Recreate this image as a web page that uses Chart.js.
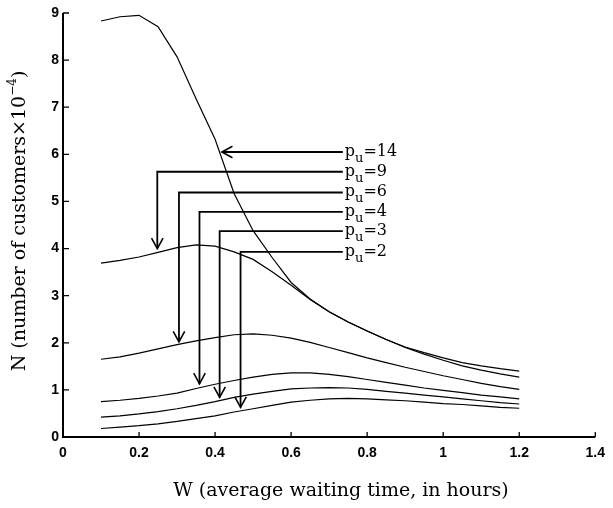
<!DOCTYPE html>
<html><head><meta charset="utf-8">
<script src="https://cdn.jsdelivr.net/npm/chart.js@4.4.0/dist/chart.umd.min.js"></script>
<style>html,body{margin:0;padding:0;background:#fff;}canvas{display:block;}</style>
</head><body>
<canvas id="c" width="613" height="508"></canvas>
<script>
// W (average waiting time, hours)
const waitTimes = [0.1,0.15,0.2,0.25,0.3,0.35,0.4,0.45,0.5,0.55,0.6,0.65,0.7,0.75,0.8,0.85,0.9,0.95,1.0,1.05,1.1,1.15,1.2];
// N (number of customers x 10^-4) for each p_u
const pu14 = [8.83,8.92,8.95,8.71,8.07,7.18,6.32,5.17,4.38,3.81,3.28,2.93,2.66,2.44,2.25,2.07,1.91,1.79,1.68,1.58,1.51,1.45,1.40];
const pu9  = [3.69,3.75,3.82,3.92,4.02,4.08,4.05,3.93,3.77,3.51,3.22,2.92,2.66,2.44,2.25,2.07,1.90,1.76,1.63,1.51,1.42,1.34,1.27];
const pu6  = [1.65,1.70,1.78,1.87,1.96,2.04,2.11,2.17,2.19,2.16,2.10,2.01,1.90,1.79,1.68,1.58,1.48,1.39,1.30,1.22,1.14,1.07,1.01];
const pu4  = [0.75,0.78,0.82,0.87,0.93,1.03,1.12,1.20,1.27,1.33,1.36,1.36,1.33,1.28,1.22,1.16,1.10,1.04,0.99,0.94,0.89,0.85,0.81];
const pu3  = [0.42,0.45,0.49,0.54,0.60,0.67,0.75,0.84,0.91,0.97,1.02,1.04,1.05,1.04,1.01,0.97,0.93,0.89,0.85,0.81,0.77,0.73,0.70];
const pu2  = [0.18,0.21,0.24,0.28,0.33,0.39,0.45,0.53,0.60,0.67,0.74,0.78,0.81,0.82,0.81,0.79,0.77,0.74,0.71,0.69,0.66,0.63,0.61];

// Annotation arrows (data coordinates)
const annLabels = ['14','9','6','4','3','2'];
const annLineY  = [6.05,5.63,5.19,4.78,4.37,3.93];
const annBendX  = [0.418,0.248,0.305,0.359,0.412,0.467];
const annTipY   = [6.05,4.00,2.02,1.13,0.84,0.63];
const annStartX = 0.736;

const xTickLabels = ['0','0.2','0.4','0.6','0.8','1','1.2','1.4'];
const yTickLabels = ['0','1','2','3','4','5','6','7','8','9'];

const xTitle = 'W (average waiting time, in hours)';
const yTitleMain = 'N (number of customers\u00d710';
const yTitleSup = '\u22124';
const yTitleEnd = ')';

const series = [pu14, pu9, pu6, pu4, pu3, pu2];
const curveDatasets = series.map(s => ({
  data: waitTimes.map((x, i) => ({x: x, y: s[i]})),
  borderColor: '#000', borderWidth: 1.2, pointRadius: 0, tension: 0, fill: false
}));
const arrowDatasets = annLabels.map((l, i) => {
  const pts = (i === 0)
    ? [{x: annStartX, y: annLineY[i]}, {x: annBendX[i], y: annTipY[i]}]
    : [{x: annStartX, y: annLineY[i]}, {x: annBendX[i], y: annLineY[i]}, {x: annBendX[i], y: annTipY[i]}];
  return {data: pts, borderColor: '#000', borderWidth: 1.8, pointRadius: 0, tension: 0, fill: false,
          borderJoinStyle: 'miter', borderCapStyle: 'butt'};
});

const SERIF = '"DejaVu Serif", "Liberation Serif", serif';
const SANS = '"Liberation Sans", Arial, sans-serif';

const decor = {
  id: 'decor',
  beforeDraw(chart) {
    const ctx = chart.ctx;
    ctx.save();
    ctx.fillStyle = '#fff';
    ctx.fillRect(0, 0, chart.width, chart.height);
    ctx.restore();
  },
  afterDatasetsDraw(chart) {
    const ctx = chart.ctx;
    const xs = chart.scales.x, ys = chart.scales.y;
    const ca = chart.chartArea;
    ctx.save();
    ctx.strokeStyle = '#000';
    ctx.fillStyle = '#000';
    // axes
    ctx.lineWidth = 2;
    ctx.beginPath();
    ctx.moveTo(ca.left, ca.top);
    ctx.lineTo(ca.left, ca.bottom);
    ctx.lineTo(ca.right, ca.bottom);
    ctx.stroke();
    // inward ticks
    ctx.lineWidth = 1.3;
    ctx.beginPath();
    xs.ticks.forEach(t => {
      const px = xs.getPixelForValue(t.value);
      ctx.moveTo(px, ca.bottom);
      ctx.lineTo(px, ca.bottom - 5);
    });
    ys.ticks.forEach(t => {
      const py = ys.getPixelForValue(t.value);
      ctx.moveTo(ca.left, py);
      ctx.lineTo(ca.left + 6, py);
    });
    ctx.stroke();
    // arrowheads
    ctx.lineWidth = 1.6;
    annLabels.forEach((l, i) => {
      const tx = xs.getPixelForValue(annBendX[i]);
      const ty = ys.getPixelForValue(annTipY[i]);
      const fx = (i === 0) ? xs.getPixelForValue(annStartX) : tx;
      const fy = ys.getPixelForValue(annLineY[i]);
      const ang = Math.atan2(ty - fy, tx - fx);
      const len = 12, spread = 0.5;
      ctx.beginPath();
      ctx.moveTo(tx - len * Math.cos(ang - spread), ty - len * Math.sin(ang - spread));
      ctx.lineTo(tx, ty);
      ctx.lineTo(tx - len * Math.cos(ang + spread), ty - len * Math.sin(ang + spread));
      ctx.stroke();
    });
    // annotation labels
    ctx.textBaseline = 'alphabetic';
    ctx.textAlign = 'left';
    annLabels.forEach((l, i) => {
      let x = xs.getPixelForValue(annStartX) + 2;
      const y = ys.getPixelForValue(annLineY[i]) + 4;
      ctx.font = '16px ' + SERIF;
      ctx.fillText('p', x, y);
      x += ctx.measureText('p').width;
      ctx.font = '13px ' + SERIF;
      ctx.fillText('u', x, y + 6);
      x += ctx.measureText('u').width;
      ctx.font = '16px ' + SERIF;
      ctx.fillText('=' + l, x, y);
    });
    // x title
    ctx.font = '19px ' + SERIF;
    ctx.textAlign = 'center';
    ctx.textBaseline = 'middle';
    ctx.fillText(xTitle, 341, 491);
    // y title
    ctx.translate(20, 221);
    ctx.rotate(-Math.PI / 2);
    ctx.textAlign = 'left';
    ctx.textBaseline = 'middle';
    ctx.font = '19px ' + SERIF;
    const w1 = ctx.measureText(yTitleMain).width;
    const w3 = ctx.measureText(yTitleEnd).width;
    ctx.font = '12px ' + SERIF;
    const w2 = ctx.measureText(yTitleSup).width;
    let sx = -(w1 + w2 + w3) / 2;
    ctx.font = '19px ' + SERIF;
    ctx.fillText(yTitleMain, sx, 0);
    sx += w1;
    ctx.font = '12px ' + SERIF;
    ctx.fillText(yTitleSup, sx, -7);
    sx += w2;
    ctx.font = '19px ' + SERIF;
    ctx.fillText(yTitleEnd, sx, 0);
    ctx.restore();
  }
};

new Chart(document.getElementById('c'), {
  type: 'line',
  data: { datasets: curveDatasets.concat(arrowDatasets) },
  options: {
    responsive: false,
    animation: false,
    layout: { padding: { top: 13, right: 14, left: 0, bottom: 0 } },
    plugins: { legend: { display: false }, tooltip: { enabled: false }, title: { display: false } },
    scales: {
      x: {
        type: 'linear', min: 0, max: 1.4,
        ticks: { stepSize: 0.2, autoSkip: false, maxRotation: 0, padding: 8, color: '#000',
                 font: { family: SANS, size: 14, weight: 'bold' },
                 callback: (v, i) => xTickLabels[i] },
        grid: { display: false, drawTicks: false },
        border: { display: false },
        afterFit: s => { s.height = 71; }
      },
      y: {
        type: 'linear', min: 0, max: 9,
        ticks: { stepSize: 1, autoSkip: false, padding: 4, color: '#000',
                 font: { family: SANS, size: 14, weight: 'bold' },
                 callback: (v, i) => yTickLabels[i] },
        grid: { display: false, drawTicks: false },
        border: { display: false },
        afterFit: s => { s.height; s.width = 63; }
      }
    }
  },
  plugins: [decor]
});
</script>
</body></html>
